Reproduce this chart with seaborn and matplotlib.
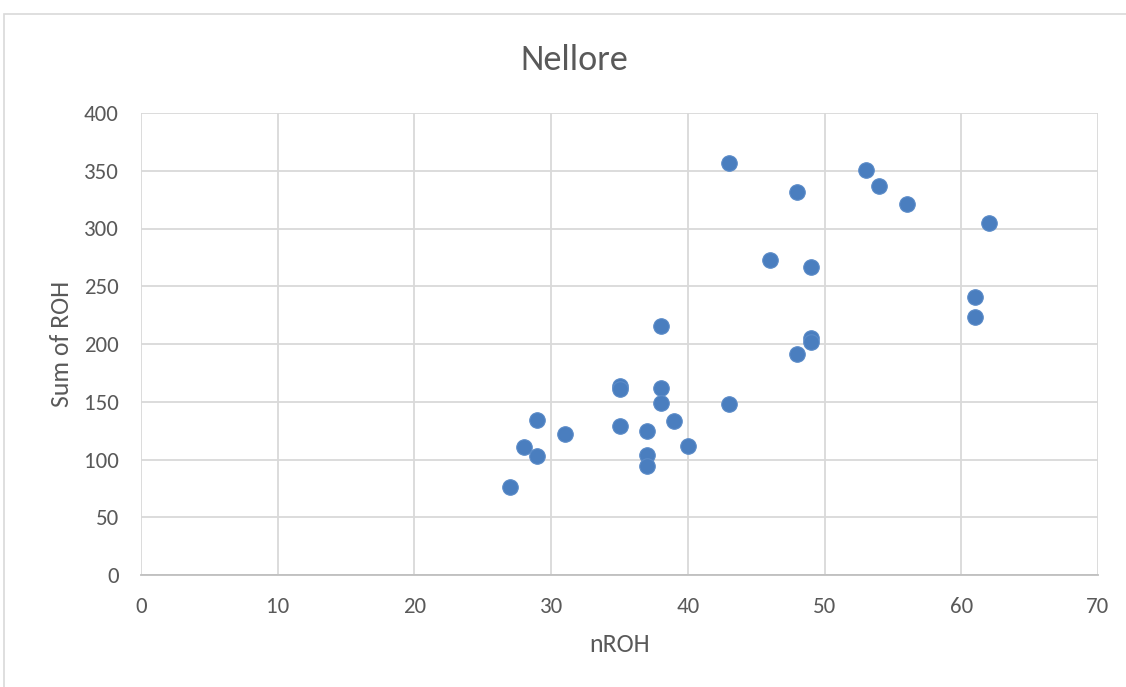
import matplotlib
matplotlib.use("Agg")
import matplotlib.pyplot as plt
import matplotlib.patches as mpatches
import pandas as pd
import seaborn as sns

# nROH and Sum of ROH per animal
n_roh = [27, 28, 29, 29, 31, 35, 35, 35, 37, 37, 37, 38, 38, 38, 39, 40,
         43, 43, 46, 48, 48, 49, 49, 49, 53, 54, 56, 61, 61, 62]
sum_roh = [76, 111, 134, 103, 122, 164, 161, 129, 125, 104, 94, 162, 149, 216, 133, 112,
           357, 148, 273, 332, 191, 267, 205, 202, 351, 337, 321, 241, 223, 305]

x_ticks = [0, 10, 20, 30, 40, 50, 60, 70]
y_ticks = [0, 50, 100, 150, 200, 250, 300, 350, 400]

df = pd.DataFrame({"nROH": n_roh, "Sum of ROH": sum_roh})

sns.set_theme(style="white")
plt.rcParams["font.family"] = ["Carlito", "Liberation Sans Narrow", "Open Sans", "DejaVu Sans"]

text_color = "#595959"
grid_color = "#D9D9D9"

W, H = 1126, 687
fig = plt.figure(figsize=(W / 100, H / 100), dpi=100)
ax = fig.add_axes([141 / W, 1 - 575 / H, (1098 - 141) / W, (575 - 113) / H])

# chart-area frame
fig.patches.append(mpatches.Rectangle((4 / W, -0.01), 1.1, 1 - 14 / H + 0.01,
                                      transform=fig.transFigure, fill=False,
                                      edgecolor="#D9D9D9", linewidth=1.2, zorder=0))

sns.scatterplot(data=df, x="nROH", y="Sum of ROH", ax=ax, s=125,
                color="#4A7EBF", edgecolor="#5B8BC8", linewidth=0.8, zorder=3)

ax.set_xlim(0, 70)
ax.set_ylim(0, 400)
ax.set_xticks(x_ticks)
ax.set_yticks(y_ticks)
ax.set_xticklabels([str(t) for t in x_ticks])
ax.set_yticklabels([str(t) for t in y_ticks])
ax.grid(True, color=grid_color, linewidth=1.3)
ax.set_axisbelow(True)
for side in ["top", "right", "left"]:
    ax.spines[side].set_visible(False)
ax.spines["bottom"].set_color("#BFBFBF")
ax.spines["bottom"].set_linewidth(1.3)
ax.tick_params(axis="both", length=0, labelsize=16.5, colors=text_color)
ax.tick_params(axis="x", pad=15.5)
ax.tick_params(axis="y", pad=16)

ax.set_xlabel("nROH", fontsize=18.5, color=text_color, labelpad=11.5)
ax.set_ylabel("Sum of ROH", fontsize=18.5, color=text_color, labelpad=8)
fig.text(574 / W, 1 - 69.5 / H, "Nellore", fontsize=26, color=text_color,
         ha="center", va="baseline")

fig.savefig("out.png", dpi=100)
